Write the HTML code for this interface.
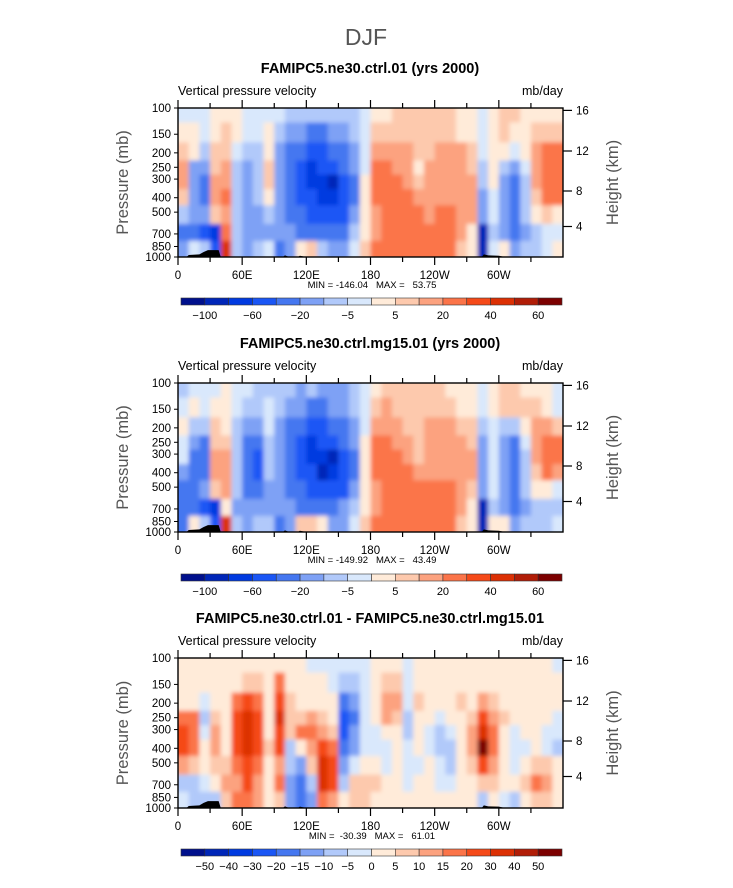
<!DOCTYPE html>
<html><head><meta charset="utf-8"><style>
html,body{margin:0;padding:0;background:#fff;}
svg{display:block;font-family:"Liberation Sans",sans-serif;}
.pre{white-space:pre;}
</style></head><body>
<svg id="fig" width="733" height="888" viewBox="0 0 733 888">
<defs>
<filter id="blur" filterUnits="userSpaceOnUse" x="0" y="0" width="733" height="888"><feGaussianBlur stdDeviation="2.2"/></filter>
<clipPath id="c1"><rect x="178" y="108" width="385" height="149"/></clipPath>
<clipPath id="c2"><rect x="178" y="383" width="385" height="149"/></clipPath>
<clipPath id="c3"><rect x="178" y="658" width="385" height="150"/></clipPath>
</defs>
<text x="366" y="45" text-anchor="middle" font-size="23" fill="#555">DJF</text>
</svg>
<script>
// ---- data ----
const lonEdgesDeg = [0,10,20,30,40,50,60,70,80,90,100,110,120,130,140,150,160,170,180,190,200,210,220,230,240,250,260,270,280,290,300,310,320,330,340,350,360];
const presEdges = [100,125,170,225,280,350,450,600,780,1000];
const levelsAbs = [-100,-80,-60,-40,-20,-10,-5,0,5,10,20,30,40,50,60];
const labelsAbs = ["-100","","-60","","-20","","-5","","5","","20","","40","","60"];
const levelsDiff = [-50,-40,-30,-20,-15,-10,-5,0,5,10,15,20,30,40,50];
const labelsDiff = ["-50","-40","-30","-20","-15","-10","-5","0","5","10","15","20","30","40","50"];
const colors = ["#00108c","#0026b8","#003ae0","#1a56f5","#4577f0","#7ea1f5","#b1c9fa","#d9e8fc","#ffebd9","#fdc9ad","#fca27f","#fb7449","#f54a19","#dc3004","#b11d07","#7c0000"];
const lonTicks = [0,60,120,180,240,300];
const lonTickLabels = ["0","60E","120E","180","120W","60W"];
const presTicks = [100,150,200,250,300,400,500,700,850,1000];
const heightTicks = [16,12,8,4];
const heightOffsets = [2.4,43,83,118.5];
const topoLon = [8,10,20,24,28,38,40,98,100,104,112,114,120,284,286,290,300,306];
const topoPres = [1000,970,960,925,900,900,1000,1000,975,1000,1000,980,1000,1000,960,975,980,1000];

// panel 1 (rows top->bottom, 36 columns of 10 deg)
const ctrl = [
[-2,-2,-2,2,2,2,-2,-2,-2,-2,-7,-7,-7,-7,-7,-7,-7,-2,2,2,7,7,7,7,7,7,2,2,-2,2,7,7,2,2,2,2],
[2,2,-2,2,7,2,-2,-2,2,-7,-15,-15,-30,-30,-15,-15,-7,-2,7,7,7,7,7,7,7,7,2,2,-2,2,7,2,2,7,7,7],
[7,2,-7,7,7,-2,-7,-7,2,-15,-30,-30,-50,-50,-30,-30,-15,-2,15,15,15,15,7,7,15,15,15,7,-2,2,2,-2,2,15,25,25],
[15,-15,-15,7,15,-7,-15,-7,7,-15,-30,-50,-70,-50,-50,-30,-15,-2,25,25,15,15,2,15,15,15,15,7,-7,2,-7,-15,-2,15,25,25],
[15,-15,-30,15,15,-7,-15,-7,7,-15,-30,-50,-70,-70,-90,-50,-30,2,25,25,25,15,7,15,15,15,15,15,-7,2,-15,-30,-7,15,25,25],
[7,-15,-30,15,25,-7,-15,-7,2,-15,-30,-50,-50,-70,-70,-50,-30,2,25,25,25,25,15,15,15,15,15,15,-15,-2,-15,-30,-7,7,25,25],
[-7,-15,-15,7,15,-7,-15,-15,-7,-15,-30,-30,-50,-50,-50,-50,-15,2,15,25,25,25,25,15,25,25,15,15,-15,-2,-15,-30,-7,2,7,2],
[-30,-30,-50,-70,25,-7,-15,-15,-15,-15,-15,-30,-30,-30,-30,-30,-7,2,15,25,25,25,25,25,25,25,15,2,-90,-7,-15,-30,-15,-7,-2,-2],
[-15,-2,-7,-50,45,-7,-15,-7,-2,-30,-15,2,7,-7,-15,-15,-2,7,25,25,25,25,25,25,25,25,7,2,-90,-2,2,-15,-7,-7,-2,2]
];
// panel 2
const mg15 = [
[-7,-2,-2,-2,2,-2,-2,-7,-7,-7,-7,-15,-7,-15,-15,-15,-7,-2,2,7,7,7,7,7,7,2,2,2,-2,2,7,7,2,2,2,-2],
[-2,2,-2,2,2,-2,-7,-7,-2,-7,-15,-15,-30,-30,-15,-15,-7,-2,7,15,7,7,7,7,7,7,2,2,-2,2,7,7,7,7,2,-2],
[2,-7,-7,7,2,-7,-15,-15,-2,-15,-30,-30,-50,-50,-30,-30,-15,-2,15,15,15,7,7,15,15,15,7,7,-7,-2,-7,-7,2,15,15,7],
[-2,-15,-30,7,7,-7,-30,-30,-7,-15,-30,-50,-70,-50,-50,-30,-15,2,25,25,15,15,7,15,15,15,15,7,-15,-2,-15,-30,-2,15,25,25],
[-2,-30,-30,15,15,-7,-30,-50,-7,-15,-30,-50,-70,-70,-90,-50,-30,2,25,25,25,15,7,15,15,15,15,15,-15,-2,-15,-30,-7,15,25,25],
[-15,-30,-30,15,15,-7,-30,-50,-7,-15,-30,-50,-50,-90,-70,-50,-30,2,25,25,25,25,15,15,15,15,15,15,-15,-2,-15,-30,-7,7,25,15],
[-30,-30,-15,7,15,-7,-30,-30,-15,-15,-30,-30,-50,-50,-50,-50,-15,2,15,25,25,25,25,25,25,25,15,7,-15,-2,-15,-30,-7,2,2,-2],
[-30,-30,-50,-70,2,-15,-15,-15,-15,-15,-15,-30,-30,-30,-30,-15,-7,2,15,25,25,25,25,25,25,25,15,2,-90,-7,-15,-30,-15,-7,-7,-7],
[-30,2,-7,-50,45,-7,-15,-7,-7,-30,-15,7,7,2,-15,-15,-2,7,25,25,25,25,25,25,25,25,7,2,-90,2,2,-15,-7,-7,-7,-2]
];
// panel 3 (columns, each listing levels top->bottom)
const diffCols = [
[2,2,2,17,25,25,12,-7,-2],[2,2,2,17,17,17,7,-7,-7],[2,2,-2,-7,-2,2,2,-2,-7],[2,2,2,7,12,12,7,2,-7],
[2,2,2,2,2,2,7,12,7],[2,2,17,25,25,25,17,12,17],[2,7,25,35,35,35,25,25,17],[2,7,17,25,25,25,17,12,12],
[2,2,2,2,2,7,2,2,2],[2,17,25,35,25,25,12,17,7],[2,2,7,7,7,-7,-7,-12,-12],[2,2,2,7,17,2,-12,-17,-17],
[-2,2,2,12,17,12,7,-7,-12],[-2,2,2,7,12,25,35,35,17],[-2,-2,2,2,7,17,25,25,12],[-2,-7,-17,-25,-25,-17,-12,-7,2],
[-2,-7,-12,-17,-12,-12,-2,7,7],[-2,-2,-2,-2,-2,-2,2,7,7],[2,2,2,2,-2,-2,2,7,2],[2,7,12,12,2,-2,-2,2,2],
[2,7,12,7,2,2,2,2,2],[-2,-2,-2,-7,-7,-2,-2,-2,2],[2,2,7,2,2,2,-2,2,2],[2,2,2,2,-2,-2,2,2,2],
[2,2,2,-2,-7,-7,-2,-2,2],[2,2,2,2,-2,-7,-7,-2,2],[2,2,7,2,2,2,2,2,2],[2,2,2,7,12,12,7,2,2],
[2,2,12,25,35,55,25,7,-7],[2,2,7,12,17,17,12,7,2],[2,2,2,7,2,2,2,2,-2],[2,2,2,2,-2,-2,-2,2,-7],
[2,2,2,2,2,-2,2,7,2],[2,2,2,2,2,2,7,17,7],[2,2,2,2,-2,-2,7,12,7],[-2,2,2,-2,-2,-7,2,2,2]
];

// ---- drawing ----
const NS = "http://www.w3.org/2000/svg";
const svg = document.getElementById('fig');
function mk(tag, attrs, parent){ const e=document.createElementNS(NS,tag); for(const k in attrs) e.setAttribute(k,attrs[k]); (parent||svg).appendChild(e); return e; }
const X0=178, X1=563;
function xLon(l){ return X0 + (l/360)*(X1-X0); }
function colorFor(v, levels){ let c=0; for(const L of levels){ if(v>=L) c++; } return colors[c]; }

const panels = [
 {top:108,h:149,title:"FAMIPC5.ne30.ctrl.01 (yrs 2000)",titleY:73,get:(r,c)=>ctrl[r][c],levels:levelsAbs,labels:labelsAbs,mm:"MIN = -146.04   MAX =   53.75",cbY:298,clip:"c1",id:"ctrl"},
 {top:383,h:149,title:"FAMIPC5.ne30.ctrl.mg15.01 (yrs 2000)",titleY:348,get:(r,c)=>mg15[r][c],levels:levelsAbs,labels:labelsAbs,mm:"MIN = -149.92   MAX =   43.49",cbY:574,clip:"c2",id:"mg15"},
 {top:658,h:150,title:"FAMIPC5.ne30.ctrl.01 - FAMIPC5.ne30.ctrl.mg15.01",titleY:623,get:(r,c)=>diffCols[c][r],levels:levelsDiff,labels:labelsDiff,mm:"MIN =  -30.39   MAX =   61.01",cbY:849,clip:"c3",id:"diff"}
];

panels.forEach((P,pi)=>{
  const yP = p => P.top + (Math.log10(p)-2)*P.h;
  const g = mk('g',{});
  
  
  const t = mk('text',{x:370,y:P.titleY,'text-anchor':'middle','font-size':'14.5','font-weight':'bold',fill:'#000'},g);
  t.textContent = P.title;
  
  
  const st = mk('text',{x:178,y:P.top-13,'font-size':'12.5',fill:'#000'},g);
  st.textContent = "Vertical pressure velocity";
  
  
  const un = mk('text',{x:563,y:P.top-13,'text-anchor':'end','font-size':'12.5',fill:'#000'},g);
  un.textContent = "mb/day";
  
  
  // field
  const hg = mk('g',{'clip-path':'url(#'+P.clip+')'},g);
  
  
  const inner = mk('g',{filter:'url(#blur)'},hg);
  for(let r=0;r<presEdges.length-1;r++){
    for(let c=0;c<lonEdgesDeg.length-1;c++){
      const v = P.get(r,c);
      let xa=xLon(lonEdgesDeg[c]), xb=xLon(lonEdgesDeg[c+1]);
      let ya=yP(presEdges[r]), yb=yP(presEdges[r+1]);
      if(c===0) xa-=6; if(c===lonEdgesDeg.length-2) xb+=6;
      if(r===0) ya-=6; if(r===presEdges.length-2) yb+=6;
      const cell = mk('rect',{x:xa,y:ya,width:xb-xa+0.6,height:yb-ya+0.6,fill:colorFor(v,P.levels)},inner);
      
      
    }
  }
  // topography
  let d='';
  const segs=[[0,7],[7,13],[13,18]];
  segs.forEach(([a,b])=>{
    d+='M'+xLon(topoLon[a])+','+(P.top+P.h);
    for(let i=a;i<b;i++) d+=' L'+xLon(topoLon[i])+','+yP(topoPres[i]);
    d+=' L'+xLon(topoLon[b-1])+','+(P.top+P.h)+' Z ';
  });
  const topo = mk('path',{d:d,fill:'#000'},g);
  
  
  // frame
  const fr = mk('rect',{x:X0,y:P.top,width:X1-X0,height:P.h,fill:'none',stroke:'#000','stroke-width':'1.4'},g);
  
  
  // lon ticks
  for(let l=0;l<=330;l+=30){
    const major = lonTicks.includes(l);
    const len = major?8:5;
    mk('line',{x1:xLon(l),x2:xLon(l),y1:P.top+P.h,y2:P.top+P.h+len,stroke:'#000','stroke-width':'1.2'},g);
    mk('line',{x1:xLon(l),x2:xLon(l),y1:P.top,y2:P.top-len,stroke:'#000','stroke-width':'1.2'},g);
  }
  lonTicks.forEach((l,i)=>{
    const tl = mk('text',{x:xLon(l),y:P.top+P.h+22,'text-anchor':'middle','font-size':'11.5',fill:'#000'},g);
    tl.textContent = lonTickLabels[i];
    
    
  });
  presTicks.forEach(p=>{
    const tl = mk('text',{x:171,y:yP(p)+4,'text-anchor':'end','font-size':'11.5',fill:'#000'},g);
    tl.textContent = String(p);
    
    
    mk('line',{x1:X0-4,x2:X0,y1:yP(p),y2:yP(p),stroke:'#000','stroke-width':'1'},g);
  });
  heightTicks.forEach((h,i)=>{
    const y = P.top + heightOffsets[i];
    mk('line',{x1:X1,x2:X1+9,y1:y,y2:y,stroke:'#000','stroke-width':'1.2'},g);
    const tl = mk('text',{x:X1+13,y:y+4,'font-size':'11.5',fill:'#000'},g);
    tl.textContent = String(h);
    
    
  });
  const yl = mk('text',{x:0,y:0,'text-anchor':'middle','font-size':'16.5',fill:'#555',transform:'translate(128,'+(P.top+P.h/2)+') rotate(-90)'},g);
  yl.textContent = "Pressure (mb)";
  
  
  const hl = mk('text',{x:0,y:0,'text-anchor':'middle','font-size':'16.5',fill:'#555',transform:'translate(618,'+(P.top+P.h/2)+') rotate(-90)'},g);
  hl.textContent = "Height (km)";
  
  
  const mm = mk('text',{x:372,y:P.top+P.h+31,'text-anchor':'middle','font-size':'9.5',fill:'#000','class':'pre'},g);
  mm.textContent = P.mm;
  
  
  // colorbar
  const cbX0=181, cbX1=562, n=colors.length, w=(cbX1-cbX0)/n;
  const cb = mk('g',{},g);
  
  
  colors.forEach((c,i)=>{
    const r = mk('rect',{x:cbX0+i*w,y:P.cbY,width:w,height:7,fill:c,stroke:'#333','stroke-width':'0.6'},cb);
    
    
  });
  P.labels.forEach((lab,i)=>{
    if(!lab) return;
    const tl = mk('text',{x:cbX0+(i+1)*w,y:P.cbY+21,'text-anchor':'middle','font-size':'11',fill:'#000'},cb);
    tl.textContent = lab.replace('-','\u2212');
    
    
  });
});
</script>
</body></html>
